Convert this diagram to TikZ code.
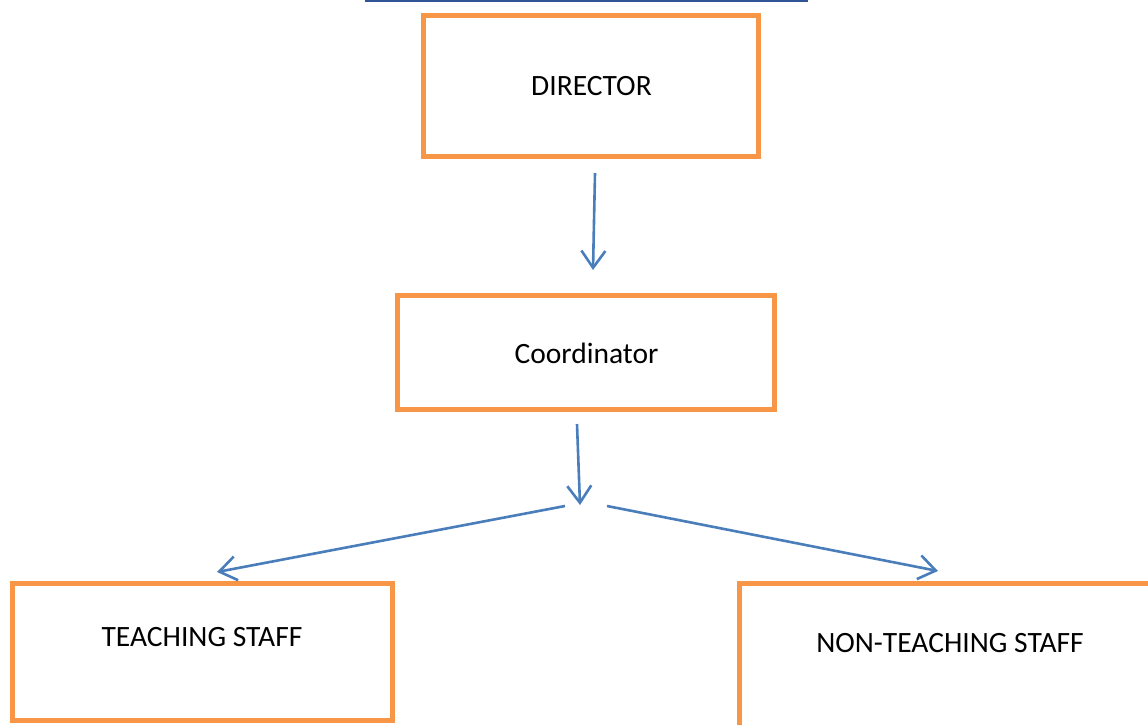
\documentclass[tikz,border=0pt]{standalone}
\usepackage{fontspec}
\setmainfont{Carlito}
\usetikzlibrary{arrows.meta}
\definecolor{boxorange}{HTML}{F79646}
\definecolor{arrowblue}{HTML}{4A7EBB}
\definecolor{topblue}{HTML}{2F5597}
\tikzset{
  orgbox/.style={draw=boxorange, line width=5pt, rectangle, inner sep=0pt},
  lbl/.style={anchor=base, inner sep=0pt, font=\fontsize{29.5}{34}\selectfont, text=black},
  conn/.style={draw=arrowblue, line width=2.6pt, -{Straight Barb[length=17pt,width=24pt]}},
}
\begin{document}
\begin{tikzpicture}[x=1pt,y=-1pt]
\useasboundingbox (0,0) rectangle (1148,724);
\clip (0,0) rectangle (1148,724);
% top rule
\coordinate (tl) at (365,1);
\coordinate (tr) at (808,1);
\draw[topblue, line width=2.5pt] (tl) -- (tr);
% boxes
\node[orgbox, minimum width=335.5pt, minimum height=141pt] (director) at (591.2,85.5) {};
\node[lbl] (directorlbl) at (591.5,95.5) {DIRECTOR};
\node[orgbox, minimum width=377.5pt, minimum height=114pt] (coord) at (586.2,352.5) {};
\node[lbl] (coordlbl) at (586.5,363) {Coordinator};
\node[orgbox, minimum width=380.7pt, minimum height=137pt] (teach) at (202.4,652) {};
\node[lbl] (teachlbl) at (202,646) {TEACHING STAFF};
\node[orgbox, minimum width=430pt, minimum height=170pt] (nonteach) at (954.7,668.5) {};
\node[lbl] (nonteachlbl) at (950,652) {NON-TEACHING STAFF};
% connectors
\coordinate (a1s) at (595,173);
\coordinate (a1e) at (593,270);
\coordinate (a2s) at (577,424);
\coordinate (a2e) at (580,505);
\coordinate (ls) at (565,506);
\coordinate (le) at (217,572);
\coordinate (rs) at (607,506);
\coordinate (re) at (938,571);
\draw[conn] (a1s) -- (a1e);
\draw[conn] (a2s) -- (a2e);
\draw[conn] (ls) -- (le);
\draw[conn] (rs) -- (re);
\end{tikzpicture}
\end{document}
